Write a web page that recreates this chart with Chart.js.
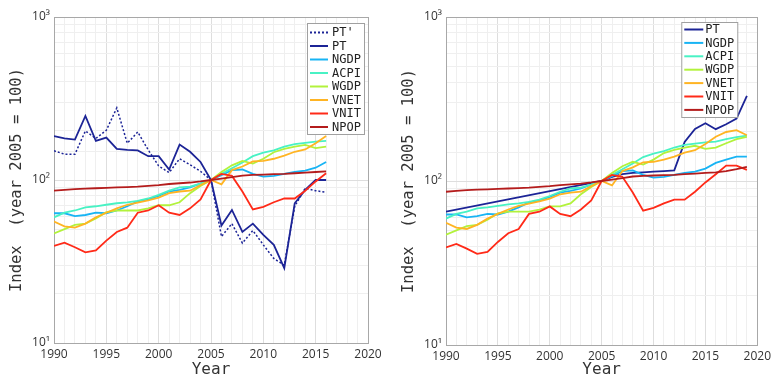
<!DOCTYPE html>
<html>
<head>
<meta charset="utf-8">
<script src="https://cdn.jsdelivr.net/npm/chart.js@4"></script>
<style>
  html, body { margin: 0; padding: 0; background: #fff; }
  #wrap { position: relative; width: 775px; height: 379px; }
  canvas { position: absolute; top: 0; }
  #c1 { left: 0; }
  #c2 { left: 388px; }
</style>
</head>
<body>
<div id="wrap">
  <canvas id="c1" width="388" height="379"></canvas>
  <canvas id="c2" width="387" height="379"></canvas>
</div>
<script>
// years 1990..2019
const years = [1990, 1991, 1992, 1993, 1994, 1995, 1996, 1997, 1998, 1999,
               2000, 2001, 2002, 2003, 2004, 2005, 2006, 2007, 2008, 2009,
               2010, 2011, 2012, 2013, 2014, 2015, 2016, 2017, 2018, 2019];

// left panel only (1990..2016)
const ptPrime = [151, 144, 144, 200, 180, 202, 277, 168, 197, 153, 122, 111, 135, 124, 113,
                 100, 45, 54, 41, 49, 40, 33, 30, 69, 89, 86, 84];
const ptOld = [186, 180, 177, 247, 174, 182, 155, 153, 152, 140, 140, 116, 165, 149, 129,
               100, 52.5, 65.5, 48, 54, 46, 40, 28.8, 72, 87, 100, 100];

// right panel PT (sparse years)
const ptNewYears = [1990, 2005, 2006, 2007, 2008, 2009, 2010, 2011, 2012, 2013, 2014, 2015, 2016, 2017, 2018, 2019];
const ptNew = [65, 100, 106, 110, 112, 113, 114, 115, 116, 173, 208, 225, 207, 222, 240, 330];

// shared series (1990..2019)
const ngdp = [62.5, 62.5, 60, 61, 63, 62.5, 65, 69, 74, 76, 80, 85, 87, 90, 95,
              100, 107, 115, 116, 109, 105, 106, 109, 112, 114, 119, 129, 135, 141, 141];
const acpi = [59, 63, 65, 68, 69, 70.5, 72, 73, 74.5, 77, 81, 86, 90, 91, 95,
              100, 109, 118, 128, 140, 147, 152, 160, 166, 169, 172, 174, 180, 185, 189];
const wgdp = [47, 50, 53, 54, 58, 63.5, 65, 65, 65, 67, 70, 70, 73, 83, 92,
              100, 112, 123, 131, 126, 135, 148, 155, 160, 164, 157, 160, 170, 180, 186];
const vnet = [55.6, 52, 51, 54, 59, 63, 67, 70.5, 72.7, 75, 78, 83, 85, 86, 93,
              100, 94, 115, 121, 130, 131, 135, 141, 149, 154, 168, 186, 199, 204, 190];
const vnit = [39.4, 41.3, 38.7, 36, 37, 42.5, 48, 51, 63, 65, 70, 63, 61, 67, 76,
              100, 109, 106, 85, 66, 68.5, 73, 77, 77, 86, 98, 110, 124, 124, 117];
const npop = [86, 87, 88, 88.5, 89, 89.5, 90, 90.5, 91, 92, 93, 94.5, 95.5, 96.5, 98,
              100, 102, 104, 106.5, 107.5, 108, 108.5, 109, 110, 111, 112, 113, 115, 118, 122];

const colors = {
  PT: '#1c2496', NGDP: '#18b4f4', ACPI: '#48f2c4', WGDP: '#b2f23c',
  VNET: '#ffb423', VNIT: '#ff2a18', NPOP: '#b41c1c'
};

const pts = (xs, ys) => ys.map((v, i) => ({ x: xs[i], y: v }));

function line(label, data, color, extra) {
  return Object.assign({
    label, data, borderColor: color, backgroundColor: color,
    borderWidth: 1.8, pointRadius: 0, fill: false, tension: 0
  }, extra || {});
}

// box around the plot area
const frame = {
  id: 'frame',
  beforeDatasetsDraw(chart) {
    const a = chart.chartArea, ctx = chart.ctx;
    ctx.save();
    ctx.strokeStyle = '#a8a8a8';
    ctx.lineWidth = 1;
    ctx.strokeRect(Math.round(a.left) + 0.5, Math.round(a.top) + 0.5,
                   Math.round(a.right - a.left), Math.round(a.bottom - a.top));
    ctx.restore();
  }
};

// legend box inside the plot
const boxLegend = {
  id: 'boxLegend',
  afterDatasetsDraw(chart, args, o) {
    const a = chart.chartArea, ctx = chart.ctx;
    const sets = chart.data.datasets;
    const x = a.right - o.offsetRight, y = a.top + o.offsetTop;
    ctx.save();
    ctx.fillStyle = '#fff';
    ctx.fillRect(x, y, o.width, o.height);
    ctx.strokeStyle = '#a0a0a0';
    ctx.lineWidth = 1;
    ctx.strokeRect(x + 0.5, y + 0.5, o.width, o.height);
    ctx.font = '12px "DejaVu Sans Mono"';
    ctx.textBaseline = 'middle';
    sets.forEach((ds, i) => {
      const cy = y + o.firstRow + i * o.step;
      ctx.strokeStyle = ds.borderColor;
      ctx.lineWidth = 2;
      ctx.setLineDash(ds.borderDash || []);
      ctx.beginPath();
      ctx.moveTo(x + 3, cy);
      ctx.lineTo(x + o.lineLen, cy);
      ctx.stroke();
      ctx.setLineDash([]);
      ctx.fillStyle = '#222';
      ctx.fillText(ds.label, x + o.textX, cy + 0.5);
    });
    ctx.restore();
  }
};

const sup = { 10: '10\u00b9', 100: '10\u00b2', 1000: '10\u00b3' };

function makeChart(el, datasets, g) {
  return new Chart(el, {
    type: 'line',
    data: { datasets },
    plugins: [frame, boxLegend],
    options: {
      responsive: false,
      animation: false,
      devicePixelRatio: 1,
      layout: { padding: { left: 0, top: 17, right: g.padRight, bottom: 0 } },
      plugins: {
        legend: { display: false },
        tooltip: { enabled: false },
        boxLegend: g.legend
      },
      scales: {
        x: {
          type: 'linear', min: 1990, max: 2020,
          afterFit: s => { s.height = g.xHeight; },
          ticks: {
            stepSize: 1, autoSkip: false, maxRotation: 0, padding: 4,
            color: '#333', font: { family: 'Open Sans', size: 12 },
            callback: v => (v % 5 === 0 ? String(v) : '')
          },
          grid: {
            drawTicks: false,
            color: c => (c.tick && c.tick.value % 5 === 0 ? '#dedede' : '#efefef')
          },
          border: { display: false },
          title: {
            display: true, text: 'Year', color: '#333',
            font: { family: 'DejaVu Sans Mono', size: 16 },
            padding: { top: 0, bottom: 0 }
          }
        },
        y: {
          type: 'logarithmic', min: 10, max: 1000,
          afterFit: s => { s.width = g.yWidth; },
          ticks: {
            autoSkip: false, padding: 4,
            color: '#333', font: { family: 'Open Sans', size: 12 },
            callback: v => sup[v] || ''
          },
          grid: {
            drawTicks: false,
            color: c => (c.tick && sup[c.tick.value] ? '#dedede' : '#efefef')
          },
          border: { display: false },
          title: {
            display: true, text: 'Index  (year 2005 = 100)', color: '#333',
            font: { family: 'DejaVu Sans Mono', size: 15.5 },
            padding: { top: g.yTitlePad, bottom: 0 }
          }
        }
      }
    }
  });
}

const leftYears = years.slice(0, 27);
const cut = a => a.slice(0, 27);

const leftSets = [
  line("PT'", pts(leftYears, ptPrime), colors.PT, { borderDash: [2, 2], borderWidth: 1.5 }),
  line('PT', pts(leftYears, ptOld), colors.PT),
  line('NGDP', pts(leftYears, cut(ngdp)), colors.NGDP),
  line('ACPI', pts(leftYears, cut(acpi)), colors.ACPI),
  line('WGDP', pts(leftYears, cut(wgdp)), colors.WGDP),
  line('VNET', pts(leftYears, cut(vnet)), colors.VNET),
  line('VNIT', pts(leftYears, cut(vnit)), colors.VNIT),
  line('NPOP', pts(leftYears, cut(npop)), colors.NPOP)
];
leftSets.forEach((d, i) => { d.order = leftSets.length - i; });

const rightSets = [
  line('PT', pts(ptNewYears, ptNew), colors.PT),
  line('NGDP', pts(years, ngdp), colors.NGDP),
  line('ACPI', pts(years, acpi), colors.ACPI),
  line('WGDP', pts(years, wgdp), colors.WGDP),
  line('VNET', pts(years, vnet), colors.VNET),
  line('VNIT', pts(years, vnit), colors.VNIT),
  line('NPOP', pts(years, npop), colors.NPOP)
];
rightSets.forEach((d, i) => { d.order = rightSets.length - i; });

makeChart(document.getElementById('c1'), leftSets, {
  padRight: 20, xHeight: 36, yWidth: 54, yTitlePad: 8,
  legend: { offsetRight: 61, offsetTop: 6, width: 57, height: 111, firstRow: 9.5, step: 13.5, lineLen: 21, textX: 25 }
});
makeChart(document.getElementById('c2'), rightSets, {
  padRight: 16, xHeight: 34, yWidth: 58, yTitlePad: 12,
  legend: { offsetRight: 76, offsetTop: 5, width: 56, height: 95, firstRow: 7.5, step: 13.4, lineLen: 22, textX: 24 }
});
</script>
</body>
</html>
